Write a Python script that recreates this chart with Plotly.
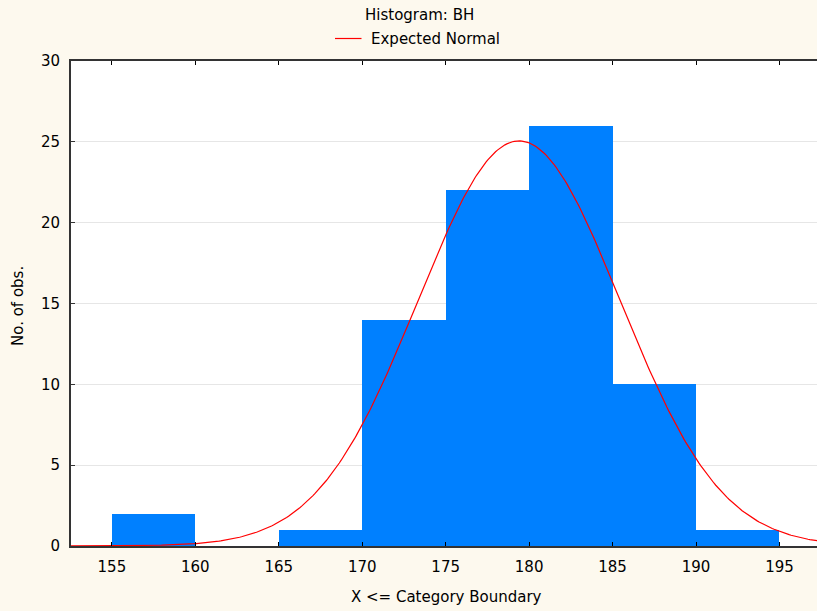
import numpy as np
import plotly.graph_objects as go

# Data
bin_left = [155, 160, 165, 170, 175, 180, 185, 190]
bin_width = 5
counts = [2, 0, 1, 14, 22, 26, 10, 1]
x_ticks = [155, 160, 165, 170, 175, 180, 185, 190, 195]
y_ticks = [0, 5, 10, 15, 20, 25, 30]
# Expected normal parameters (fitted to the sample)
mean_bh = 179.4
sd_bh = 6.05
n_obs = sum(counts)

centers = [b + bin_width / 2 for b in bin_left]
xs = np.linspace(152.5, 197.5, 400)
ys = n_obs * bin_width / (sd_bh * np.sqrt(2 * np.pi)) * np.exp(-((xs - mean_bh) ** 2) / (2 * sd_bh ** 2))

font = "DejaVu Sans, Verdana, sans-serif"
fs = 15

fig = go.Figure()
fig.add_trace(go.Bar(x=centers, y=counts, width=[bin_width] * len(counts),
                     marker=dict(color="#0080FF", line=dict(width=0)),
                     showlegend=False, hoverinfo="x+y"))
fig.add_trace(go.Scatter(x=xs, y=ys, mode="lines", name="Expected Normal",
                         line=dict(color="#FF0000", width=1.2), showlegend=False))

# plot area geometry (pixels) used to place the header/legend texts
L, T, R, B = 71, 61, 817, 546
def px(x):
    return (x - L) / (R - L)
def py(y):
    return (B - y) / (B - T)

fig.update_layout(
    width=817, height=611,
    margin=dict(l=L, r=817 - R, t=T, b=611 - B, autoexpand=False),
    paper_bgcolor="#FDF9EE", plot_bgcolor="#FFFFFF",
    font=dict(family=font, size=fs, color="#000000"),
    bargap=0,
    showlegend=False,
    annotations=[
        dict(text="Histogram: BH", xref="paper", yref="paper", x=px(419), y=py(15),
             xanchor="center", yanchor="middle", showarrow=False, font=dict(size=fs)),
        dict(text="Expected Normal", xref="paper", yref="paper", x=px(369), y=py(39.5),
             xanchor="left", yanchor="middle", showarrow=False, font=dict(size=fs)),
        dict(text="No. of obs.", xref="paper", yref="paper", x=px(18), y=py(306),
             xanchor="center", yanchor="middle", showarrow=False, textangle=-90,
             font=dict(size=fs)),
        dict(text="X <= Category Boundary", xref="paper", yref="paper", x=px(446.5), y=py(597),
             xanchor="center", yanchor="middle", showarrow=False, font=dict(size=fs)),
    ],
    shapes=[
        dict(type="line", xref="paper", yref="paper", x0=px(335), x1=px(361.5),
             y0=py(38.5), y1=py(38.5), line=dict(color="#FF0000", width=1.2)),
    ],
)
fig.update_xaxes(range=[152.55, 197.25], tickvals=x_ticks, showgrid=False, zeroline=False,
                 showline=True, linecolor="#333333", linewidth=2, mirror="allticks",
                 ticks="inside", ticklen=4, tickcolor="#000000", automargin=False,
                 ticklabelstandoff=6, tickfont=dict(size=fs))
fig.update_yaxes(range=[0, 30], tickvals=y_ticks, showgrid=True, gridcolor="#E6E6E6",
                 zeroline=False, showline=True, linecolor="#333333", linewidth=2,
                 ticks="inside", ticklen=4, tickcolor="#333333", automargin=False,
                 ticklabelstandoff=6, tickfont=dict(size=fs))

fig.write_html("out.html", config={"displayModeBar": False},
               post_script="document.body.style.margin='0';document.body.style.overflow='hidden';")
